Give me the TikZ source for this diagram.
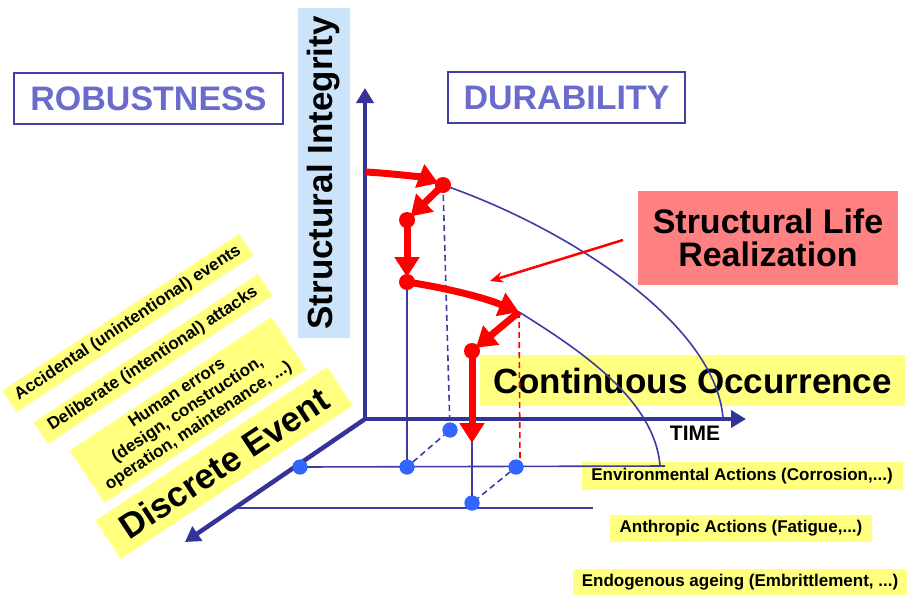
\documentclass[tikz,border=0pt]{standalone}
\usepackage{fontspec}
\setmainfont{Liberation Sans}
\usetikzlibrary{arrows.meta}

\definecolor{axisblue}{HTML}{333399}
\definecolor{lineblue}{HTML}{3C3CA2}
\definecolor{dotblue}{HTML}{3366FF}
\definecolor{hiyellow}{HTML}{FFFF80}
\definecolor{skyblue}{HTML}{CCE4FA}
\definecolor{salmon}{HTML}{FF8080}
\definecolor{titleblue}{HTML}{6B6BCC}
\definecolor{frameblue}{HTML}{4040A8}

\newcommand{\sizept}[2]{\fontsize{#1}{#2}\selectfont}

\tikzset{
  axistip/.tip={Triangle[length=15pt,width=17pt]},
  steptip/.tip={Triangle[length=20pt,width=24pt]},
}

\begin{document}
\begin{tikzpicture}[x=1pt, y=-1pt,
  framedtitle/.style={draw=frameblue, line width=1.5pt, text=titleblue,
    font=\sizept{34}{36}\bfseries, inner sep=0pt},
  hltag/.style={fill=hiyellow, font=\sizept{17}{20}\bfseries, inner sep=0pt, align=center},
  slanttag/.style={hltag, rotate=33.5},
  bigtag/.style={fill=hiyellow, font=\sizept{35}{36}\bfseries, inner sep=0pt},
  guideline/.style={draw=lineblue, line width=1.6pt},
  guidedash/.style={guideline, dash pattern=on 6pt off 4pt},
  reddash/.style={draw=red, line width=1.6pt, dash pattern=on 6pt off 4pt},
  axisline/.style={draw=axisblue, line width=4.5pt, line join=miter},
  lifestep/.style={draw=red, line width=7pt, -steptip, shorten >=5pt},
  reddot/.style={circle, fill=red, minimum size=16pt, inner sep=0pt},
  bluedot/.style={circle, fill=dotblue, minimum size=15pt, inner sep=0pt},
]
\useasboundingbox (0,0) rectangle (907,595);

% ---- titles and labels ----
\node[fill=skyblue, rotate=90, minimum width=330pt, minimum height=52pt, inner sep=0pt,
      font=\sizept{35}{36}\bfseries] (integrity) at (324,173) {Structural Integrity};
\node[framedtitle, minimum width=269pt, minimum height=51pt] (robust) at (148.5,98.5) {ROBUSTNESS};
\node[framedtitle, minimum width=237pt, minimum height=51pt] (durab) at (566.5,97.5) {DURABILITY};
\node[fill=salmon, minimum width=260pt, minimum height=94pt, inner sep=0pt, align=center,
      font=\sizept{34}{33}\bfseries] (life) at (768,238) {Structural Life\\Realization};
\node[bigtag, minimum width=425pt, minimum height=51pt] (contocc) at (692.5,380.5) {Continuous Occurrence};
\node[font=\sizept{21}{22}\bfseries] (time) at (695,433) {TIME};

\node[hltag, minimum width=321pt, minimum height=28pt] (envir) at (742,476) {Environmental Actions (Corrosion,...)};
\node[hltag, minimum width=262pt, minimum height=27pt] (anthro) at (741,528) {Anthropic Actions (Fatigue,...)};
\node[hltag, minimum width=334pt, minimum height=26pt] (endog) at (740,582) {Endogenous ageing (Embrittlement, ...)};

\node[slanttag, minimum width=284pt, minimum height=26pt] (accid) at (128,323) {Accidental (unintentional) events};
\node[slanttag, minimum width=269pt, minimum height=26pt] (delib) at (153,359) {Deliberate (intentional) attacks};
\node[slanttag, minimum width=242pt, minimum height=63pt, font=\sizept{17}{19.5}\bfseries] (human) at (188,410)
  {Human errors\\(design, construction,\\operation, maintenance, ...)};
\node[bigtag, rotate=33.5, minimum width=278pt, minimum height=46pt] (discrete) at (224,463) {Discrete Event};

% ---- reference points ----
\coordinate (O) at (365,419);
\coordinate (ytop) at (365,88);
\coordinate (xend) at (746,419);
\coordinate (zend) at (185,542);
\coordinate (r0) at (366,172);
\coordinate (r1) at (443,185);
\coordinate (r2) at (407,220);
\coordinate (r3) at (407,282);
\coordinate (r4) at (519,312);
\coordinate (r5) at (472,351);
\coordinate (r6) at (472,443);
\coordinate (outerend) at (723,418);
\coordinate (innerend) at (660,466);
\coordinate (lineAend) at (665,466);
\coordinate (lineBstart) at (235,508);
\coordinate (lineBend) at (593,508);
\coordinate (callout) at (623,240);
\coordinate (callouttip) at (490,281);
\coordinate (redfoot) at (520,460);

% ---- blue dots (positions) ----
\node[bluedot] (b1) at (300,467) {};
\node[bluedot] (b2) at (407,467) {};
\node[bluedot] (b3) at (450,430) {};
\node[bluedot] (b4) at (516,467) {};
\node[bluedot] (b5) at (472,503) {};

% ---- thin guide lines ----
\begin{scope}[on background layer/.style={}]
\draw[guideline] (b1.center) -- (lineAend);
\draw[guideline] (lineBstart) -- (lineBend);
\draw[guideline] (r1) .. controls (560,225) and (715,320) .. (outerend);
\draw[guideline] (r4) .. controls (580,350) and (655,400) .. (innerend);
\draw[guideline] (r3) .. controls (440,286) and (480,298) .. (r4);
\draw[guideline] (r3) -- (b2.center);
\draw[guideline] (r5) -- (b5.center);
\draw[guidedash] (r1) -- (b3.center);
\draw[guidedash] (b2) -- (b3);
\draw[guidedash] (b4) -- (b5);
\draw[reddash] (r4) -- (redfoot);
\end{scope}

% ---- axes ----
\draw[axisline, axistip-axistip] (ytop) -- (O) -- (xend);
\draw[axisline, -axistip] (O) -- (zend);

% ---- structural life path ----
\draw[lifestep] (r0) .. controls (400,174) and (425,178) .. (r1);
\draw[lifestep] (r1) -- (r2);
\draw[lifestep] (r2) -- (r3);
\draw[lifestep, shorten >=0pt] (r3) .. controls (440,287) and (480,296) .. (r4);
\draw[lifestep] (r4) -- (r5);
\draw[lifestep, shorten >=0pt] (r5) -- (r6);
\node[reddot] (d1) at (r1) {};
\node[reddot] (d2) at (r2) {};
\node[reddot] (d3) at (r3) {};
\node[reddot] (d5) at (r5) {};

% ---- dots redrawn on top ----
\foreach \p in {b1,b2,b3,b4,b5} \fill[dotblue] (\p) circle (7.5pt);

% ---- callout arrow ----
\draw[red, line width=2.5pt, -{Stealth[length=13pt,width=11pt]}] (callout) -- (callouttip);
\end{tikzpicture}
\end{document}
